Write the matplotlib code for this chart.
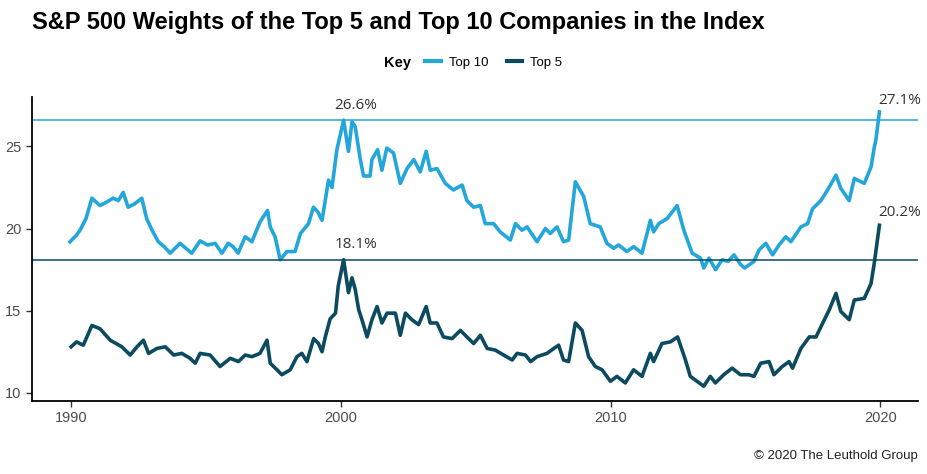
import matplotlib
matplotlib.use("Agg")
import matplotlib.pyplot as plt
from matplotlib.lines import Line2D

# Top 10 weight (%)
top10_years = [1989.96, 1990.2, 1990.33, 1990.55, 1990.77, 1991.07, 1991.3, 1991.56, 1991.75, 1991.93,
               1992.11, 1992.35, 1992.62, 1992.8, 1993.0, 1993.23, 1993.45, 1993.67, 1994.04, 1994.25,
               1994.47, 1994.78, 1995.05, 1995.34, 1995.59, 1995.82, 1996.0, 1996.19, 1996.45, 1996.7,
               1997.0, 1997.28, 1997.38, 1997.56, 1997.75, 1998.0, 1998.3, 1998.5, 1998.8, 1998.98,
               1999.15, 1999.3, 1999.54, 1999.67, 1999.85, 2000.1, 2000.28, 2000.41, 2000.53, 2000.72,
               2000.84, 2001.08, 2001.15, 2001.36, 2001.52, 2001.7, 2001.95, 2002.2, 2002.45, 2002.7,
               2002.94, 2003.16, 2003.31, 2003.56, 2003.87, 2004.17, 2004.49, 2004.67, 2004.92, 2005.17,
               2005.35, 2005.66, 2005.9, 2006.28, 2006.47, 2006.71, 2006.9, 2007.27, 2007.58, 2007.76,
               2008.01, 2008.25, 2008.44, 2008.69, 2009.0, 2009.24, 2009.61, 2009.86, 2010.11, 2010.29,
               2010.6, 2010.85, 2011.16, 2011.47, 2011.59, 2011.78, 2012.09, 2012.46, 2012.71, 2013.02,
               2013.33, 2013.45, 2013.64, 2013.89, 2014.13, 2014.35, 2014.57, 2014.82, 2014.97, 2015.31,
               2015.5, 2015.75, 2016.0, 2016.24, 2016.49, 2016.68, 2017.05, 2017.3, 2017.48, 2017.79,
               2018.04, 2018.35, 2018.53, 2018.84, 2019.03, 2019.4, 2019.65, 2019.77, 2019.83, 2019.96]
top10_vals = [19.2, 19.6, 19.9, 20.6, 21.85, 21.4, 21.6, 21.85, 21.7, 22.2,
              21.3, 21.5, 21.85, 20.6, 19.9, 19.2, 18.9, 18.5, 19.1, 18.8,
              18.5, 19.25, 19.0, 19.1, 18.5, 19.1, 18.9, 18.5, 19.5, 19.2,
              20.4, 21.1, 20.1, 19.5, 18.1, 18.6, 18.6, 19.7, 20.3, 21.3,
              21.0, 20.5, 22.95, 22.5, 24.8, 26.6, 24.7, 26.5, 26.2, 24.2,
              23.2, 23.2, 24.2, 24.8, 23.55, 24.9, 24.6, 22.75, 23.65, 24.2,
              23.45, 24.7, 23.55, 23.65, 22.75, 22.35, 22.65, 21.7, 21.3, 21.4,
              20.3, 20.3, 19.8, 19.3, 20.3, 19.9, 20.1, 19.2, 20.0, 19.7,
              20.1, 19.2, 19.3, 22.85, 21.95, 20.3, 20.1, 19.1, 18.8, 19.0,
              18.6, 18.9, 18.5, 20.5, 19.8, 20.3, 20.6, 21.4, 19.9, 18.5,
              18.2, 17.6, 18.2, 17.5, 18.1, 18.0, 18.4, 17.8, 17.6, 18.0,
              18.7, 19.1, 18.4, 19.0, 19.5, 19.2, 20.1, 20.3, 21.2, 21.7,
              22.35, 23.25, 22.45, 21.7, 23.05, 22.75, 23.75, 24.95, 25.4, 27.1]

# Top 5 weight (%)
top5_years = [1990.0, 1990.2, 1990.45, 1990.77, 1991.07, 1991.45, 1991.88, 1992.19, 1992.44, 1992.68,
              1992.87, 1993.18, 1993.49, 1993.8, 1994.1, 1994.41, 1994.6, 1994.78, 1995.15, 1995.52,
              1995.9, 1996.2, 1996.45, 1996.7, 1997.0, 1997.26, 1997.38, 1997.63, 1997.81, 1998.12,
              1998.37, 1998.55, 1998.74, 1998.99, 1999.17, 1999.3, 1999.42, 1999.6, 1999.8, 1999.9,
              2000.1, 2000.28, 2000.41, 2000.53, 2000.66, 2000.78, 2000.97, 2001.15, 2001.34, 2001.52,
              2001.71, 2002.02, 2002.2, 2002.39, 2002.63, 2002.88, 2003.16, 2003.31, 2003.56, 2003.8,
              2004.12, 2004.43, 2004.67, 2004.92, 2005.17, 2005.42, 2005.72, 2006.03, 2006.35, 2006.53,
              2006.84, 2007.03, 2007.27, 2007.64, 2007.89, 2008.07, 2008.25, 2008.44, 2008.69, 2008.94,
              2009.18, 2009.43, 2009.68, 2009.99, 2010.23, 2010.54, 2010.85, 2011.16, 2011.47, 2011.59,
              2011.9, 2012.21, 2012.48, 2012.77, 2012.95, 2013.2, 2013.45, 2013.69, 2013.88, 2014.19,
              2014.5, 2014.81, 2015.12, 2015.31, 2015.56, 2015.87, 2016.05, 2016.36, 2016.61, 2016.74,
              2017.05, 2017.36, 2017.61, 2017.86, 2018.1, 2018.35, 2018.53, 2018.84, 2019.03, 2019.4,
              2019.65, 2019.77, 2019.96]
top5_vals = [12.8, 13.1, 12.9, 14.1, 13.9, 13.2, 12.8, 12.3, 12.8, 13.2,
             12.4, 12.7, 12.8, 12.3, 12.4, 12.1, 11.8, 12.4, 12.3, 11.6,
             12.1, 11.9, 12.3, 12.2, 12.4, 13.2, 11.8, 11.4, 11.1, 11.4,
             12.2, 12.4, 11.9, 13.3, 13.0, 12.5, 13.4, 14.5, 14.85, 16.5,
             18.1, 16.1, 17.0, 16.3, 15.05, 14.45, 13.4, 14.45, 15.25, 14.25,
             14.85, 14.85, 13.5, 14.85, 14.45, 14.15, 15.25, 14.25, 14.25, 13.4,
             13.3, 13.8, 13.4, 13.0, 13.5, 12.7, 12.6, 12.3, 12.0, 12.4,
             12.3, 11.9, 12.2, 12.4, 12.7, 12.9, 12.0, 11.9, 14.25, 13.8,
             12.2, 11.6, 11.4, 10.7, 11.0, 10.6, 11.4, 11.0, 12.4, 11.9,
             13.0, 13.1, 13.4, 12.0, 11.0, 10.7, 10.4, 11.0, 10.6, 11.1,
             11.5, 11.1, 11.1, 11.0, 11.8, 11.9, 11.1, 11.6, 11.9, 11.5,
             12.7, 13.4, 13.4, 14.25, 15.05, 16.05, 14.95, 14.45, 15.65, 15.75,
             16.65, 17.9, 20.2]

ref_top10 = 26.6
ref_top5 = 18.1
x_ticks = [1990, 2000, 2010, 2020]
y_ticks = [10, 15, 20, 25]

c10 = "#23a6da"
c5 = "#0b4a5f"

fig = plt.figure(figsize=(9.28, 4.74), dpi=100)
ax = fig.add_axes([0.0345, 0.154, 0.955, 0.641])

ax.plot(top10_years, top10_vals, color=c10, lw=2.6, solid_joinstyle="round")
ax.plot(top5_years, top5_vals, color=c5, lw=2.6, solid_joinstyle="round")
ax.axhline(ref_top10, color=c10, lw=1.1)
ax.axhline(ref_top5, color=c5, lw=1.1)

# labels on the peaks
lab_font = dict(fontsize=11, color="#333333", family="Open Sans", ha="center", va="bottom")
ax.text(2000.55, ref_top10 + 0.45, "26.6%", **lab_font)
ax.text(2000.55, ref_top5 + 0.45, "18.1%", **lab_font)
ax.text(2020.7, 27.35, "27.1%", **lab_font)
ax.text(2020.7, 20.55, "20.2%", **lab_font)

ax.set_xlim(1988.55, 2021.4)
ax.set_ylim(9.5, 28.0)
ax.set_xticks(x_ticks)
ax.set_yticks(y_ticks)
ax.tick_params(labelsize=10.5, labelcolor="#4d4d4d", color="#333333", length=4, width=1)
for lab in ax.get_xticklabels() + ax.get_yticklabels():
    lab.set_family("Liberation Sans")
for s in ["top", "right"]:
    ax.spines[s].set_visible(False)
for s in ["left", "bottom"]:
    ax.spines[s].set_linewidth(1.3)
    ax.spines[s].set_color("black")

fig.text(0.035, 0.953, "S&P 500 Weights of the Top 5 and Top 10 Companies in the Index",
         fontsize=17, fontweight="bold", family="Liberation Sans", va="center", ha="left")

# legend row
fig.text(0.414, 0.868, "Key", fontsize=10.5, fontweight="bold", family="Liberation Sans",
         va="center", ha="left")
handles = [Line2D([], [], color=c10, lw=3), Line2D([], [], color=c5, lw=3)]
fig.legend(handles, ["Top 10", "Top 5"], loc="center left", bbox_to_anchor=(0.445, 0.868),
           ncol=2, frameon=False, handlelength=1.2, handletextpad=0.6, columnspacing=1.4,
           prop={"family": "Liberation Sans", "size": 9.5})

fig.text(0.989, 0.038, "© 2020 The Leuthold Group", fontsize=9.5, family="Liberation Sans",
         ha="right", va="center", color="#222222")

fig.savefig("out.png", dpi=100)
